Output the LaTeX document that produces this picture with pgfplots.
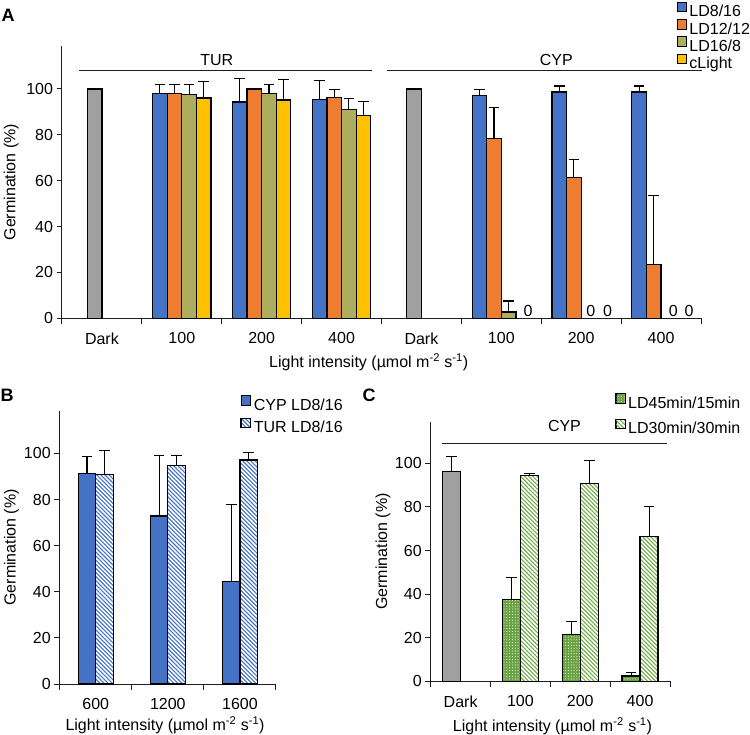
\documentclass[border=0pt]{standalone}
\usepackage{fontspec}
\setmainfont{Liberation Sans}
\usepackage{pgfplots}
\pgfplotsset{compat=1.18}
\usetikzlibrary{patterns.meta}

\definecolor{cBlue}{RGB}{68,114,196}
\definecolor{cOrange}{RGB}{237,125,49}
\definecolor{cOlive}{RGB}{173,173,98}
\definecolor{cYellow}{RGB}{255,192,0}
\definecolor{cGray}{RGB}{160,160,160}
\definecolor{cGreen}{RGB}{104,163,64}
\definecolor{cGreenLine}{RGB}{112,173,71}
\definecolor{cAxis}{RGB}{30,30,30}

\newcommand{\fs}{\fontsize{16bp}{19bp}\selectfont}

\pgfplotsset{
 panel/.style={
   scale only axis, anchor=south west,
   ymin=0, axis x line*=bottom, axis y line*=left,
   axis line style={line width=1bp, cAxis},
   tick style={line width=1bp, cAxis},
   tick align=outside, major tick length=5.5bp,
   ytick={0,20,40,60,80,100},
   xticklabels={},
   extra x tick style={major tick length=0pt},
   tick label style={font=\fs},
   xticklabel style={yshift=-11bp},
   label style={font=\fs},
   /pgf/number format/assume math mode=true,
   clip=false,
   legend cell align=left,
   legend image code/.code={\draw[##1, line width=1bp] (0bp,0bp) rectangle (9.5bp,9.5bp);},
   error bars/y dir=plus, error bars/y explicit,
   error bars/error bar style={line width=1.1bp, black},
   error bars/error mark options={rotate=90, line width=1.1bp, black, mark size=5.3bp},
   xlabel={Light intensity (µmol m\textsuperscript{-2} s\textsuperscript{-1})},
   ylabel={Germination (\%)},
 },
 bar/.style={ybar, bar width=#1, bar shift=0pt, draw=black, line width=1.2bp},
}

\begin{document}
\begin{tikzpicture}
\path[use as bounding box] (0bp,0bp) rectangle (750bp,735bp);

% ---------------- Panel A ----------------
\begin{axis}[panel, at={(62bp,416.7bp)}, width=639bp, height=272.3bp,
  xmin=0, xmax=8, ymax=118.75,
  xtick={0,1,...,8},
  extra x ticks={0.5,1.5,2.5,3.5,4.5,5.5,6.5,7.5},
  extra x tick labels={Dark,100,200,400,Dark,100,200,400},
  xlabel style={at={(axis description cs:0.48,-0.1825)}, anchor=base},
  ylabel style={at={(axis description cs:-0.0728,0.5)}, anchor=base},
  legend style={at={(axis description cs:0.9620,1.1634)}, anchor=north west,
    draw=none, fill=none, inner sep=0pt, row sep=0bp, column sep=1.2bp, font=\fs,
    nodes={inner sep=0.8bp}},
]
\addplot[bar=14.6bp, fill=cBlue] coordinates {
 (1.2258,98.0) +- (0,4.0) (2.2258,94.3) +- (0,10.2) (3.2258,95.5) +- (0,8.3)
 (5.2258,97.1) +- (0,2.7) (6.2258,98.7) +- (0,2.6) (7.2258,98.7) +- (0,2.6)};
\addlegendentry{LD8/16}
\addplot[bar=14.6bp, fill=cOrange] coordinates {
 (1.4086,98.0) +- (0,4.0) (2.4086,100.0) +- (0,0) (3.4086,96.2) +- (0,3.5)
 (5.4086,78.3) +- (0,13.7) (6.4086,61.4) +- (0,7.9) (7.4086,23.3) +- (0,30.3)};
\addlegendentry{LD12/12}
\addplot[bar=14.6bp, fill=cOlive] coordinates {
 (1.5914,97.6) +- (0,4.4) (2.5914,98.0) +- (0,4.0) (3.5914,91.1) +- (0,4.8)
 (5.5914,2.75) +- (0,4.8)};
\addlegendentry{LD16/8}
\addplot[bar=14.6bp, fill=cYellow] coordinates {
 (1.7742,96.1) +- (0,7.2) (2.7742,95.2) +- (0,8.8) (3.7742,88.3) +- (0,6.3)};
\addlegendentry{cLight}
\addplot[bar=14.6bp, fill=cGray, forget plot, error bars/y dir=none]
 coordinates {(0.4086,100) (4.4086,100)};
\node[font=\fs, anchor=base] at (axis cs:5.834,1.0) {0};
\node[font=\fs, anchor=base] at (axis cs:6.621,1.0) {0};
\node[font=\fs, anchor=base] at (axis cs:6.829,1.0) {0};
\node[font=\fs, anchor=base] at (axis cs:7.654,1.0) {0};
\node[font=\fs, anchor=base] at (axis cs:7.850,1.0) {0};
\draw[line width=1bp, cAxis] (axis cs:0.217,108.2) -- (axis cs:3.885,108.2);
\draw[line width=1bp, cAxis] (axis cs:4.073,108.2) -- (axis cs:8.01,108.2);
\node[font=\fs, anchor=base] at (axis cs:1.937,110.2) {TUR};
\node[font=\fs, anchor=base] at (axis cs:6.188,110.2) {CYP};
\end{axis}

% ---------------- Panel B ----------------
\begin{axis}[panel, at={(59.7bp,51bp)}, width=216.3bp, height=273.3bp,
  xmin=0, xmax=3, ymax=118.5,
  xtick={0,1,2,3},
  extra x ticks={0.5,1.5,2.5},
  extra x tick labels={600,1200,1600},
  xlabel style={at={(axis description cs:0.487,-0.171)}, anchor=base},
  ylabel style={at={(axis description cs:-0.204,0.5)}, anchor=base},
  legend style={at={(axis description cs:0.835,1.057)}, anchor=north west,
    draw=none, fill=none, inner sep=0pt, row sep=5bp, column sep=2bp, font=\fs,
    nodes={inner sep=0.8bp}},
]
\addplot[bar=17.4bp, fill=cBlue] coordinates {
 (0.3793,91.3) +- (0,7.2) (1.3793,72.8) +- (0,26.3) (2.3793,44.5) +- (0,33.2)};
\addlegendentry{CYP LD8/16}
\addplot[bar=17.4bp, preaction={fill=white},
  pattern={Lines[angle=-45,distance=2.9bp,line width=1.1bp]}, pattern color=cBlue]
 coordinates {
 (0.6207,91.0) +- (0,10.1) (1.6207,94.6) +- (0,4.4) (2.6207,97.1) +- (0,3.2)};
\addlegendentry{TUR LD8/16}
\end{axis}

% ---------------- Panel C ----------------
\begin{axis}[panel, at={(430.7bp,53.7bp)}, width=239.3bp, height=259.6bp,
  xmin=0, xmax=4, ymax=119.1,
  xtick={0,1,2,3,4},
  extra x ticks={0.5,1.5,2.5,3.5},
  extra x tick labels={Dark,100,200,400},
  xlabel style={at={(axis description cs:0.509,-0.195)}, anchor=base},
  ylabel style={at={(axis description cs:-0.1826,0.5)}, anchor=base},
  legend style={at={(axis description cs:0.771,1.11)}, anchor=north west,
    draw=none, fill=none, inner sep=0pt, row sep=8bp, column sep=1.5bp, font=\fs,
    nodes={inner sep=0.8bp}},
]
\addplot[bar=18bp, preaction={fill=cGreen},
  pattern={Dots[distance=2.8bp,radius=0.55bp]}, pattern color=white] coordinates {
 (1.3496,37.6) +- (0,9.9) (2.3496,21.6) +- (0,5.9) (3.3496,2.4) +- (0,1.7)};
\addlegendentry{LD45min/15min}
\addplot[bar=18bp, preaction={fill=white},
  pattern={Lines[angle=-45,distance=2.9bp,line width=1.1bp]}, pattern color=cGreenLine] coordinates {
 (1.6504,94.5) +- (0,1.0) (2.6504,90.6) +- (0,10.8) (3.6504,66.6) +- (0,13.7)};
\addlegendentry{LD30min/30min}
\addplot[bar=18bp, fill=cGray, forget plot] coordinates {
 (0.3496,96.1) +- (0,7.1)};
\draw[line width=1bp, cAxis] (axis cs:0.194,109.2) -- (axis cs:3.955,109.2);
\node[font=\fs, anchor=base] at (axis cs:2.236,114.5) {CYP};
\end{axis}

\node[font=\fontsize{18bp}{20bp}\selectfont\bfseries] at (8bp,719.3bp) {A};
\node[font=\fontsize{18bp}{20bp}\selectfont\bfseries] at (7bp,340bp) {B};
\node[font=\fontsize{18bp}{20bp}\selectfont\bfseries] at (369bp,340bp) {C};
\end{tikzpicture}
\end{document}
